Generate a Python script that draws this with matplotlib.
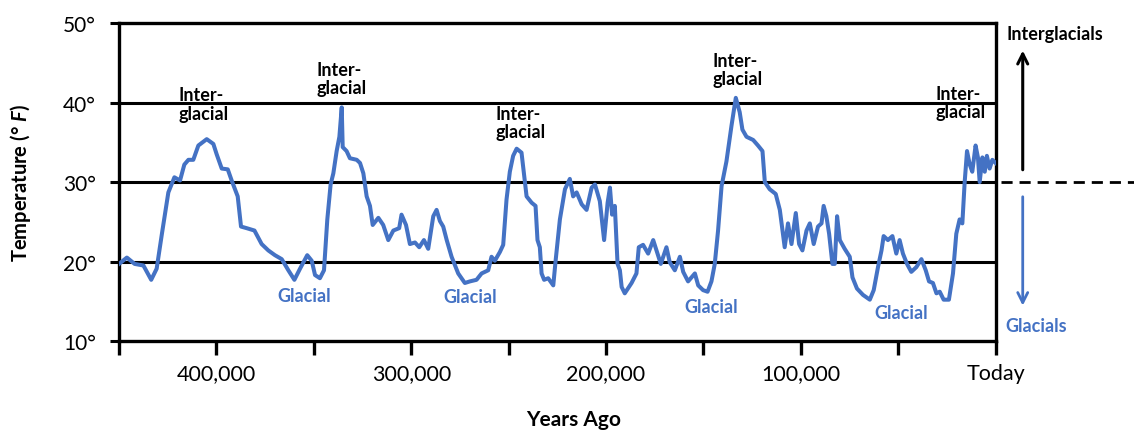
import matplotlib
matplotlib.use("Agg")
import matplotlib.pyplot as plt

plt.rcParams['font.family'] = ['Lato', 'DejaVu Sans']
plt.rcParams['mathtext.fontset'] = 'custom'
plt.rcParams['mathtext.it'] = 'Lato:italic:bold'
plt.rcParams['mathtext.rm'] = 'Lato'

# temperature record, years ago (thousands) vs temperature (deg F)
years_ago_k = [450, 446, 442, 437.5, 433.5, 430.7, 428, 424.7, 421.6, 418.7,
               416.5, 414.4, 411.9, 409.3, 405, 401.6, 399.9, 397.3, 394.2, 392.2,
               389.1, 387.4, 384.5, 380.5, 376.8, 373.4, 370, 366.5, 363.1, 360,
               357.1, 353.4, 351.1, 349.4, 346.9, 344.8, 343.1, 341.4, 340, 338.3,
               336.9, 335.7, 335.2, 333.2, 331.5, 328, 326.3, 324.6, 322.9, 321.2,
               319.8, 316.9, 314.4, 311.8, 309.2, 306.2, 305, 302.7, 300.7, 298.1,
               295.9, 293.5, 291.3, 288.7, 287, 285.3, 283.6, 281.8, 279.3, 275.9,
               272.5, 269.9, 266.5, 263.9, 260.5, 258.8, 257.1, 254.5, 252.8, 251.1,
               249.4, 247.7, 245.9, 243.4, 242, 240.8, 238.2, 236.2, 235.2, 234,
               233.1, 231.8, 229.7, 227.1, 225.9, 223.7, 221.1, 218.6, 216.9, 215.1,
               212.5, 210, 207.4, 205.7, 203.2, 201, 199.2, 198, 196.9, 195.5,
               194.1, 192.9, 192, 190.4, 186.9, 184.4, 183.2, 181, 178.4, 175.8,
               173.6, 171.9, 169, 167.3, 164.7, 162.1, 160.4, 157.9, 154.4, 152.7,
               150.2, 147.9, 145.9, 144.2, 142.5, 140.7, 138.2, 135.6, 133.4, 131.4,
               130, 127.9, 124.5, 122, 119.7, 118.5, 116, 112.9, 110.8, 109.4,
               108.3, 106.6, 104.8, 102.6, 100.9, 99.2, 97.1, 95.4, 93.4, 91.2,
               89.4, 88.3, 86.9, 85.5, 83.8, 82.6, 81.4, 80, 77.5, 74.9,
               73.5, 71.2, 68.1, 64.6, 62.6, 60.4, 58.6, 57.5, 55.3, 53,
               51, 49.3, 47.6, 45.5, 43.3, 40.7, 38.1, 35.9, 34.2, 32.2,
               30.4, 28.7, 26.7, 24, 21.9, 20.2, 18.5, 17.1, 15.9, 14.7,
               13.3, 12, 10.3, 9.1, 8.2, 6.8, 5.6, 4.5, 3.1, 1.7, 0]
temp_f = [19.7, 20.5, 19.7, 19.5, 17.7, 19.1, 23.5, 28.7, 30.6, 30.2,
          32.2, 32.8, 32.8, 34.6, 35.4, 34.8, 33.5, 31.7, 31.6, 30.2,
          28.2, 24.4, 24.2, 23.9, 22.2, 21.4, 20.8, 20.3, 18.9, 17.7,
          19.1, 20.8, 20.1, 18.3, 17.9, 18.9, 25.3, 29.7, 31.1, 33.9,
          35.7, 39.4, 34.4, 33.9, 33.0, 32.8, 32.4, 31.1, 28.2, 27.0,
          24.6, 25.5, 24.6, 22.7, 23.9, 24.2, 25.9, 24.6, 22.2, 22.4,
          21.8, 22.7, 21.6, 25.7, 26.5, 25.1, 24.4, 22.7, 20.6, 18.5,
          17.3, 17.5, 17.7, 18.5, 18.9, 20.6, 20.1, 21.2, 22.1, 27.8,
          31.3, 33.3, 34.2, 33.7, 30.8, 28.2, 27.4, 27.0, 22.7, 21.8,
          18.5, 17.7, 17.9, 17.0, 20.1, 25.3, 29.1, 30.4, 28.2, 28.7,
          27.2, 26.5, 29.3, 29.7, 27.6, 22.7, 27.4, 29.3, 25.9, 27.0,
          19.7, 18.9, 16.8, 16.0, 17.3, 18.5, 21.8, 22.1, 21.0, 22.7,
          21.0, 19.7, 21.8, 19.9, 18.9, 20.6, 18.7, 17.5, 18.5, 17.0,
          16.4, 16.2, 17.5, 19.7, 23.9, 29.5, 32.6, 37.1, 40.6, 38.8,
          36.6, 35.7, 35.3, 34.6, 33.9, 30.0, 29.1, 28.5, 26.5, 23.9,
          21.8, 24.8, 22.2, 26.1, 22.2, 21.4, 23.9, 24.8, 22.2, 24.4,
          24.8, 27.0, 25.7, 23.5, 19.7, 19.7, 25.7, 22.7, 21.6, 20.6,
          18.0, 16.6, 15.8, 15.2, 16.4, 19.3, 21.4, 23.2, 22.7, 23.2,
          21.0, 22.7, 21.0, 19.7, 18.7, 19.3, 20.3, 18.9, 17.5, 17.3,
          16.0, 16.2, 15.2, 15.2, 18.5, 23.5, 25.3, 24.8, 30.0, 33.9,
          32.2, 31.3, 34.6, 33.1, 30.0, 33.1, 31.3, 33.3, 31.7, 32.8, 32.4]

y_ticks = [10, 20, 30, 40, 50]
y_labels = ["10°", "20°", "30°", "40°", "50°"]
x_major = [400, 300, 200, 100, 0]
x_labels = ["400,000", "300,000", "200,000", "100,000", "Today"]
x_minor = [450, 350, 250, 150, 50]

# label positions (years ago k, temp)
interglacial_pos = [(406.6, 39.8), (336, 43.0), (243.7, 37.5), (132.4, 44.2), (18, 40.0)]
glacial_pos = [(354.8, 15.7), (270, 15.6), (146.2, 14.3), (48.7, 13.6)]

blue = "#4472C4"

fig = plt.figure(figsize=(11.34, 4.31), dpi=100)
ax = fig.add_axes([0.105, 0.2065, 0.773, 0.7375])

ax.plot(years_ago_k, temp_f, color=blue, lw=2.9, solid_joinstyle='round', zorder=3)

for t in [20, 30, 40]:
    ax.axhline(t, color="black", lw=2.2, zorder=2)

ax.set_xlim(450, 0)
ax.set_ylim(10, 50)
for s in ax.spines.values():
    s.set_linewidth(2.4)
    s.set_color("black")

ax.set_xticks(x_major)
ax.set_xticklabels(x_labels)
ax.set_xticks(x_minor, minor=True)
ax.tick_params(axis='x', which='both', direction='out', length=10, width=2.4,
               pad=6, labelsize=15.5)
ax.set_yticks(y_ticks)
ax.set_yticklabels(y_labels)
ax.tick_params(axis='y', direction='out', length=6.5, width=2.2, pad=10, labelsize=15)

ax.set_xlabel("Years Ago", fontsize=15, fontweight='bold', va='center')
ax.xaxis.set_label_coords(0.518, -0.245)
ax.set_ylabel("Temperature (° $\\it{F}$)", fontsize=14.5, fontweight='bold', va='center')
ax.yaxis.set_label_coords(-0.112, 0.5)

for x, y in interglacial_pos:
    ax.text(x, y, "Inter-\nglacial", ha='center', va='center', multialignment='left',
            fontsize=13, fontweight='bold', color='black', linespacing=1.1, zorder=4)
for x, y in glacial_pos:
    ax.text(x, y, "Glacial", ha='center', va='center', fontsize=13,
            fontweight='bold', color=blue, zorder=4)

# right-hand legend area
ax.text(-5.6, 48.75, "Interglacials", ha='left', va='center', fontsize=13,
        fontweight='bold', color='black', clip_on=False)
ax.text(-21, 12.0, "Glacials", ha='center', va='center', fontsize=13,
        fontweight='bold', color=blue, clip_on=False)
ax.annotate("", xy=(-13.9, 46.9), xytext=(-13.9, 31.2), xycoords='data',
            arrowprops=dict(arrowstyle='->', color='black', lw=2.2, mutation_scale=18),
            annotation_clip=False)
ax.annotate("", xy=(-13.9, 14.1), xytext=(-13.9, 28.5), xycoords='data',
            arrowprops=dict(arrowstyle='->', color=blue, lw=2.0, mutation_scale=18),
            annotation_clip=False)
ax.plot([-2.6, -71], [30, 30], color='black', lw=2.0, ls=(0, (4, 2.5)), clip_on=False)

fig.savefig("out.png", dpi=100)
